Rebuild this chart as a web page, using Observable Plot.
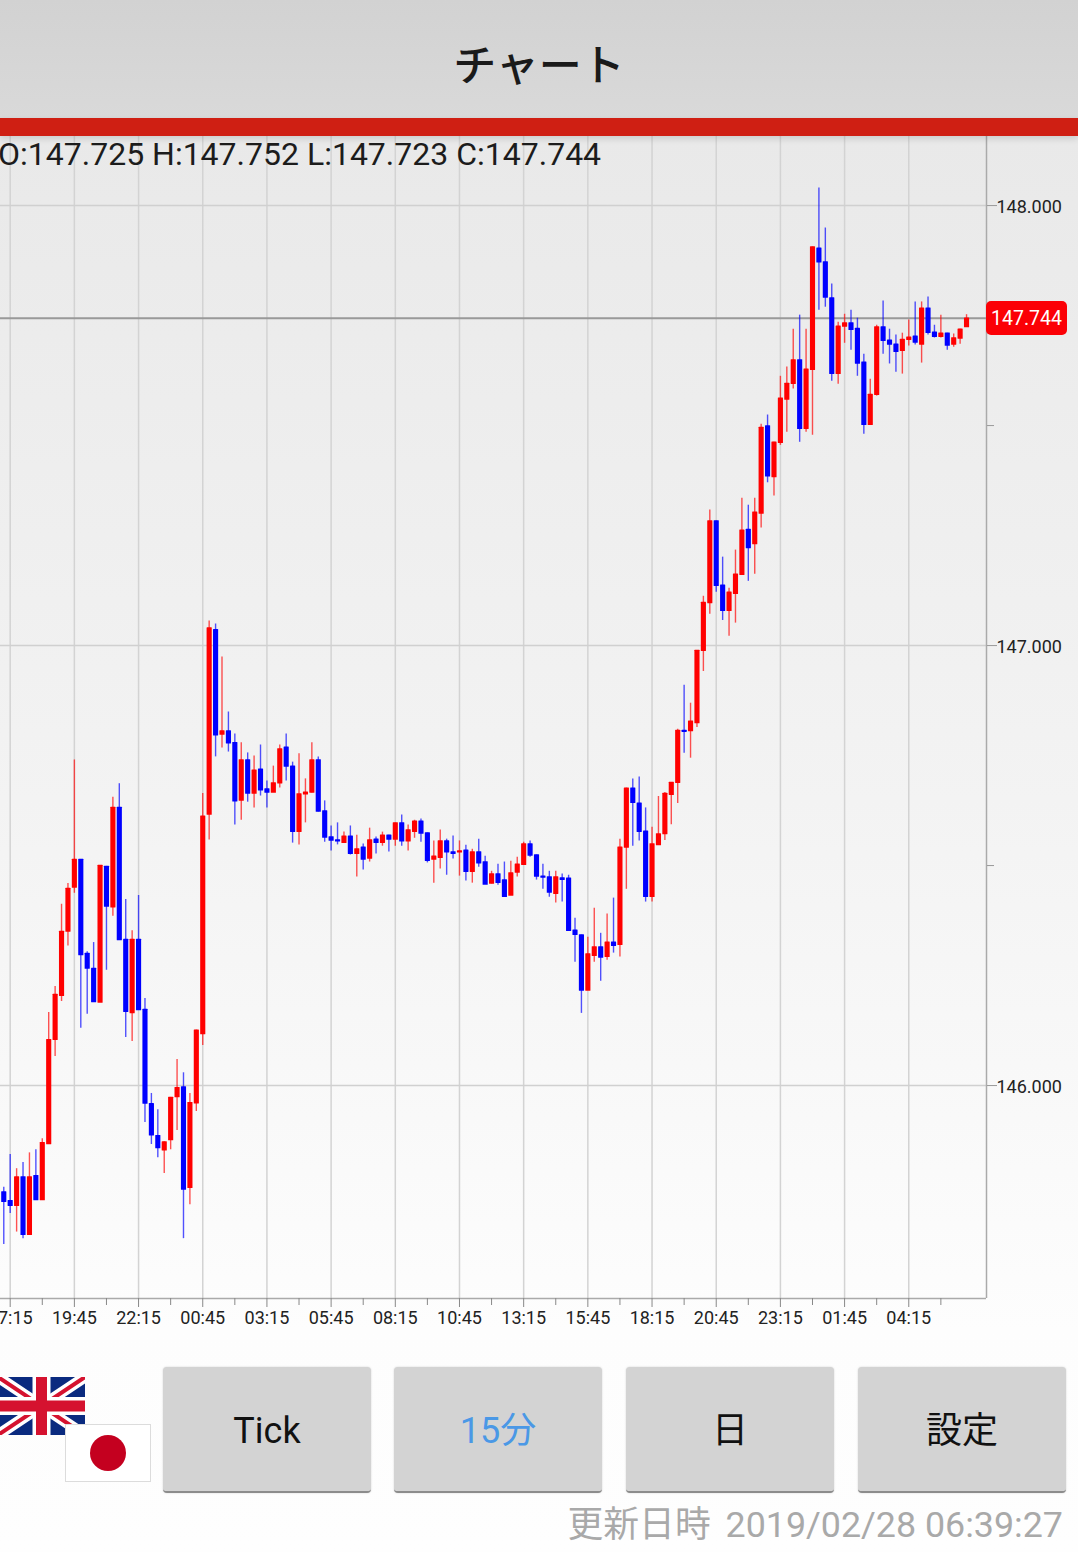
<!DOCTYPE html>
<html lang="ja">
<head>
<meta charset="utf-8">
<script src="https://cdn.jsdelivr.net/npm/d3@7"></script>
<script src="https://cdn.jsdelivr.net/npm/@observablehq/plot@0.6"></script>
<style>
html,body{margin:0;padding:0;width:1078px;height:1552px;overflow:hidden;background:#fff;font-family:Roboto,"Noto Sans CJK JP",sans-serif;}
#page{position:relative;width:1078px;height:1552px;overflow:hidden;background:linear-gradient(#e9e9e9 136px,#f3f3f3 800px,#fdfdfd 1330px,#fefefe 1552px);}
#head{position:absolute;left:0;top:0;width:1078px;height:118px;background:linear-gradient(#d2d2d2,#d9d9d9);text-align:center;font:500 43px/124px "Noto Sans CJK JP";color:#1a1a1a;}
#bar{position:absolute;left:0;top:118px;width:1078px;height:18px;background:#cf1f13;box-shadow:0 3px 6px rgba(0,0,0,.12);}
#ohlc{position:absolute;left:-2px;top:135px;font:400 32px/38px Roboto;color:#1c1c1c;white-space:pre;z-index:3;}
#chart{position:absolute;left:0;top:136px;}
#chart svg{background:transparent;overflow:hidden;}
#last{position:absolute;left:986px;top:301px;width:81px;height:34px;background:#fb0006;border-radius:5px;color:#fff;font:400 19.5px/36px Roboto;text-align:center;}
.btn{position:absolute;top:1367px;width:208px;height:124px;background:#d3d3d3;border-bottom:2.5px solid #8c8c8c;border-radius:4px;text-align:center;font:400 36px/128px Roboto,"Noto Sans CJK JP";color:#111;box-shadow:0 0 2px rgba(0,0,0,.18);}
#upd{position:absolute;right:15px;top:1501px;font:400 35.8px/48px Roboto,"Noto Sans CJK JP";color:#a9a9a9;white-space:pre;}
#upd span{margin-left:6px;}
#uk{position:absolute;left:-2px;top:1377px;}
#jp{position:absolute;left:65px;top:1424px;width:84px;height:56px;background:#fff;border:1.5px solid #dcdcdc;}
#jp i{position:absolute;left:24px;top:10px;width:36px;height:36px;border-radius:50%;background:#c4001f;}
</style>
</head>
<body>
<div id="page">
<div id="chart"></div>
<div id="head">チャート</div>
<div id="bar"></div>
<div id="ohlc">O:147.725 H:147.752 L:147.723 C:147.744</div>
<div id="last">147.744</div>
<svg id="uk" width="87" height="58" viewBox="0 0 87 58">
<rect width="87" height="58" fill="#0a2a7f"/>
<path d="M0 0L87 58M87 0L0 58" stroke="#fff" stroke-width="11"/>
<path d="M0 0L87 58M87 0L0 58" stroke="#d5122f" stroke-width="4"/>
<path d="M43.5 0V58M0 29H87" stroke="#fff" stroke-width="18"/>
<path d="M43.5 0V58M0 29H87" stroke="#d5122f" stroke-width="11"/>
</svg>
<div id="jp"><i></i></div>
<div class="btn" style="left:163px">Tick</div>
<div class="btn" style="left:394px;color:#4a98e6">15分</div>
<div class="btn" style="left:626px">日</div>
<div class="btn" style="left:858px">設定</div>
<div id="upd">更新日時 <span>2019/02/28 06:39:27</span></div>
</div>
<script>
const open = [145.758,145.738,145.728,145.792,145.662,145.795,145.741,145.868,146.105,146.205,
146.351,146.451,146.514,146.300,146.266,146.190,146.498,146.406,146.632,146.332,
146.166,146.332,146.173,145.959,145.886,145.854,145.877,145.975,145.997,145.769,
145.961,146.118,146.617,147.036,146.799,146.806,146.779,146.649,146.740,146.665,
146.719,146.674,146.667,146.688,146.769,146.726,146.578,146.663,146.667,146.740,
146.624,146.565,146.558,146.553,146.567,146.528,146.542,146.517,146.560,146.553,
146.569,146.560,146.597,146.556,146.578,146.601,146.574,146.515,146.519,146.556,
146.531,146.531,146.535,146.487,146.531,146.508,146.460,146.481,146.467,146.433,
146.485,146.503,146.549,146.524,146.476,146.474,146.437,146.472,146.471,146.353,
146.342,146.217,146.296,146.315,146.294,146.326,146.321,146.542,146.676,146.642,
146.578,146.430,146.548,146.573,146.662,146.689,146.807,146.807,146.825,146.989,
147.098,147.283,147.137,147.080,147.119,147.162,147.264,147.232,147.301,147.499,
147.384,147.462,147.560,147.596,147.649,147.494,147.628,147.903,147.872,147.790,
147.619,147.726,147.733,147.721,147.644,147.503,147.571,147.724,147.694,147.685,
147.671,147.696,147.703,147.685,147.767,147.712,147.703,147.710,147.685,147.699,147.725];
const high = [145.769,145.843,145.811,145.825,145.847,145.854,145.879,146.166,146.225,146.412,
146.459,146.740,146.514,146.304,146.325,146.500,146.498,146.655,146.686,146.423,
146.352,146.432,146.198,145.982,145.945,145.872,145.973,146.059,146.029,145.982,
146.126,146.664,147.056,147.049,146.974,146.849,146.799,146.779,146.756,146.749,
146.774,146.692,146.726,146.774,146.799,146.735,146.754,146.697,146.779,146.747,
146.647,146.590,146.597,146.576,146.590,146.569,146.549,146.585,146.565,146.576,
146.569,146.597,146.615,146.592,146.603,146.606,146.574,146.556,146.581,146.560,
146.567,146.556,146.546,146.537,146.560,146.521,146.487,146.503,146.508,146.510,
146.519,146.553,146.556,146.524,146.503,146.487,146.487,146.481,146.478,146.380,
146.342,146.337,146.403,146.346,146.390,146.426,146.560,146.676,146.697,146.701,
146.631,146.587,146.657,146.666,146.689,146.810,146.910,146.869,146.989,147.112,
147.308,147.283,147.201,147.130,147.217,147.335,147.319,147.335,147.503,147.524,
147.462,147.612,147.633,147.719,147.751,147.719,147.906,148.040,147.949,147.822,
147.735,147.753,147.762,147.744,147.662,147.605,147.728,147.783,147.719,147.706,
147.710,147.740,147.781,147.781,147.792,147.728,147.751,147.710,147.708,147.719,147.752];
const low = [145.639,145.709,145.667,145.652,145.662,145.740,145.741,145.866,146.066,146.191,
146.317,146.437,146.130,146.162,146.191,146.190,146.262,146.385,146.332,146.109,
146.100,146.173,145.916,145.866,145.836,145.800,145.854,145.898,145.652,145.729,
145.941,146.091,146.558,146.747,146.767,146.758,146.592,146.603,146.644,146.631,
146.658,146.631,146.667,146.676,146.692,146.551,146.547,146.597,146.665,146.622,
146.553,146.533,146.547,146.553,146.524,146.474,146.490,146.508,146.526,146.544,
146.531,146.544,146.544,146.533,146.562,146.553,146.506,146.460,146.492,146.478,
146.515,146.476,146.465,146.460,146.496,146.458,146.458,146.455,146.430,146.433,
146.474,146.503,146.519,146.467,146.446,146.428,146.415,146.417,146.353,146.280,
146.164,146.217,146.280,146.237,146.285,146.301,146.292,146.446,146.544,146.556,
146.417,146.417,146.546,146.557,146.593,146.641,146.755,146.744,146.814,146.941,
147.071,147.121,147.057,147.021,147.051,147.162,147.146,147.162,147.267,147.370,
147.340,147.455,147.485,147.583,147.462,147.485,147.478,147.762,147.769,147.601,
147.594,147.687,147.671,147.612,147.480,147.503,147.567,147.662,147.640,147.621,
147.617,147.681,147.683,147.642,147.706,147.699,147.699,147.671,147.678,147.685,147.723];
const close = [145.737,145.728,145.792,145.662,145.792,145.741,145.870,146.104,146.207,146.350,
146.448,146.514,146.298,146.267,146.191,146.500,146.408,146.632,146.332,146.169,
146.332,146.173,145.960,145.888,145.859,145.872,145.973,145.995,145.765,145.961,
146.126,146.612,147.040,146.797,146.806,146.779,146.647,146.740,146.665,146.717,
146.672,146.667,146.688,146.765,146.726,146.578,146.663,146.667,146.740,146.624,
146.565,146.558,146.556,146.567,146.528,146.538,146.515,146.558,146.553,146.569,
146.560,146.597,146.556,146.581,146.601,146.574,146.512,146.521,146.556,146.531,
146.528,146.533,146.487,146.531,146.506,146.458,146.481,146.462,146.430,146.483,
146.503,146.549,146.524,146.476,146.474,146.440,146.474,146.469,146.353,146.344,
146.217,146.299,146.315,146.292,146.326,146.319,146.542,146.676,146.644,146.578,
146.430,146.549,146.572,146.664,146.689,146.807,146.805,146.828,146.989,147.098,
147.283,147.137,147.080,147.121,147.162,147.262,147.223,147.303,147.496,147.386,
147.462,147.562,147.596,147.649,147.494,147.628,147.906,147.872,147.792,147.619,
147.726,147.733,147.719,147.642,147.503,147.571,147.724,147.694,147.685,147.669,
147.696,147.701,147.690,147.767,147.712,147.703,147.710,147.683,147.699,147.719,147.744];

const timeLabels = ["17:15","19:45","22:15","00:45","03:15","05:45","08:15","10:45","13:15","15:45","18:15","20:45","23:15","01:45","04:15"];
const timeTicks = [1,11,21,31,41,51,61,71,81,91,101,111,121,131,141];
const minorTicks = [6,16,26,36,46,56,66,76,86,96,106,116,126,136,146];
const priceTicks = [148,147,146];
const minorPrices = [147.5,146.5];
const lastPrice = 147.744;

const candles = open.map((o,i)=>({i,o,h:high[i],l:low[i],c:close[i],up:close[i]>o}));
const up = "#ff0000", down = "#0000ff";
const label = new Map(timeTicks.map((t,k)=>[t,timeLabels[k]]));
const yMin = 145.516, yMax = 148.157, xMax = 153.11;

const chart = Plot.plot({
  width:1078, height:1200,
  marginLeft:0, marginRight:92, marginTop:0, marginBottom:38,
  style:{background:"transparent",fontFamily:"Roboto",color:"#222"},
  x:{type:"linear",domain:[-0.51,xMax],label:null},
  y:{domain:[yMin,yMax],label:null},
  marks:[
    Plot.ruleX(timeTicks,{stroke:"#d3d3d3",strokeWidth:1.5}),
    Plot.ruleY(priceTicks,{stroke:"#d0d0d0",strokeWidth:1.5}),
    Plot.ruleY([lastPrice],{stroke:"#999999",strokeWidth:2}),
    Plot.ruleX([xMax],{stroke:"#aaaaaa",strokeWidth:1.5}),
    Plot.ruleY([yMin],{stroke:"#aaaaaa",strokeWidth:1.5}),
    Plot.ruleX(candles,{x:"i",y1:"l",y2:"h",stroke:d=>d.up?up:down,strokeWidth:1.4,strokeOpacity:0.68}),
    Plot.rect(candles,{x1:d=>d.i-0.4,x2:d=>d.i+0.4,y1:"o",y2:"c",fill:d=>d.up?up:down,insetTop:-0.7,insetBottom:-0.7,rx:0.5,dx:0.5,dy:0.5}),
    Plot.axisY({anchor:"right",ticks:priceTicks,tickFormat:()=>"",tickSize:10,label:null,stroke:"#999"}),
    Plot.axisY({anchor:"right",ticks:minorPrices,tickFormat:()=>"",tickSize:7,label:null,stroke:"#999"}),
    Plot.text(priceTicks,{x:()=>xMax,y:d=>d,text:d3.format(".3f"),textAnchor:"start",dx:10,dy:1.5,fontSize:18,fill:"#222",clip:false}),
    Plot.axisX({anchor:"bottom",ticks:timeTicks,tickFormat:d=>label.get(d),tickSize:9,tickPadding:4,fontSize:18,label:null,stroke:"#888",fill:"#222"}),
    Plot.axisX({anchor:"bottom",ticks:minorTicks,tickFormat:()=>"",tickSize:7,label:null,stroke:"#888"})
  ]
});
document.getElementById("chart").appendChild(chart);
</script>
</body>
</html>
